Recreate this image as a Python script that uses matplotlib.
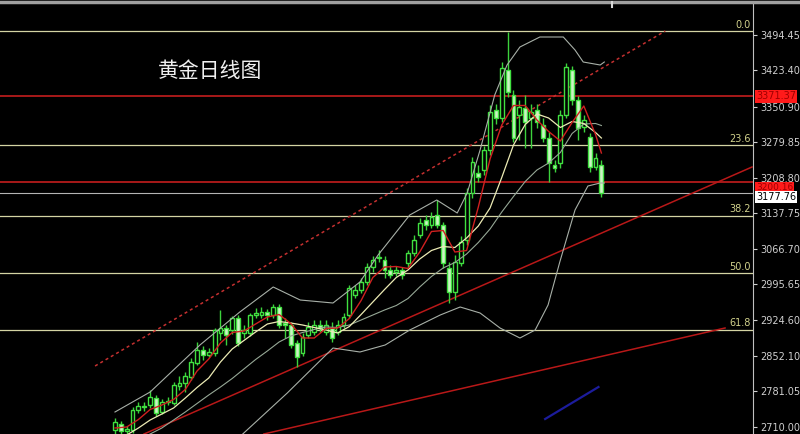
import numpy as np
import matplotlib
matplotlib.use("Agg")
import matplotlib.pyplot as plt
import matplotlib.transforms as mtransforms
from matplotlib.lines import Line2D

# daily gold candles (oldest -> newest)
open_ = [2704, 2716, 2702, 2704, 2744, 2750, 2754, 2768, 2740, 2760,
         2758, 2792, 2798, 2810, 2838, 2864, 2854, 2858, 2898, 2908,
         2904, 2928, 2898, 2898, 2934, 2934, 2940, 2934, 2950, 2918,
         2914, 2878, 2858, 2894, 2900, 2914, 2900, 2908, 2900, 2914,
         2934, 2974, 2984, 3000, 3030, 3048, 3044, 3024, 3020, 3024,
         3038, 3058, 3094, 3124, 3114, 3134, 3114, 3028, 2980, 3038,
         3084, 3178, 3218, 3224, 3264, 3344, 3328, 3424, 3374, 3334,
         3348, 3328, 3344, 3314, 3288, 3234, 3238, 3334, 3424, 3364,
         3310, 3290, 3230, 3234]
high = [2728, 2722, 2712, 2750, 2760, 2760, 2784, 2774, 2766, 2770,
        2800, 2812, 2820, 2848, 2880, 2872, 2868, 2908, 2944, 2914,
        2932, 2934, 2914, 2938, 2948, 2950, 2946, 2956, 2956, 2928,
        2920, 2884, 2898, 2920, 2924, 2924, 2924, 2920, 2924, 2938,
        2994, 2994, 3008, 3038, 3052, 3064, 3052, 3034, 3032, 3030,
        3064, 3094, 3128, 3134, 3140, 3164, 3120, 3040, 3054, 3092,
        3188, 3250, 3234, 3272, 3354, 3356, 3440, 3500, 3384, 3364,
        3374, 3356, 3356, 3328, 3300, 3244, 3344, 3438, 3432, 3372,
        3334, 3298, 3258, 3244]
low = [2696, 2696, 2696, 2698, 2738, 2742, 2748, 2732, 2736, 2754,
       2754, 2784, 2780, 2804, 2834, 2844, 2850, 2852, 2884, 2874,
       2896, 2872, 2888, 2892, 2928, 2928, 2924, 2928, 2908, 2888,
       2868, 2830, 2852, 2888, 2894, 2900, 2894, 2880, 2894, 2908,
       2928, 2968, 2978, 2994, 3020, 3040, 3008, 3008, 3012, 3006,
       3028, 3052, 3088, 3104, 3108, 3108, 3028, 2958, 2964, 3032,
       3074, 3168, 3200, 3214, 3254, 3316, 3320, 3370, 3280, 3284,
       3268, 3268, 3308, 3280, 3200, 3220, 3228, 3328, 3354, 3284,
       3300, 3220, 3224, 3170]
close = [2720, 2702, 2706, 2744, 2752, 2752, 2770, 2738, 2760, 2762,
         2794, 2798, 2812, 2840, 2864, 2854, 2860, 2904, 2908, 2894,
         2928, 2878, 2904, 2934, 2938, 2940, 2934, 2950, 2914, 2914,
         2874, 2850, 2890, 2910, 2914, 2908, 2914, 2888, 2914, 2930,
         2988, 2984, 3000, 3030, 3044, 3050, 3024, 3014, 3024, 3014,
         3058, 3084, 3118, 3114, 3130, 3114, 3038, 2980, 3040, 3080,
         3178, 3240, 3210, 3264, 3340, 3328, 3428, 3380, 3288, 3350,
         3320, 3340, 3320, 3288, 3238, 3228, 3334, 3430, 3364, 3308,
         3324, 3230, 3248, 3177.76]

# moving averages read at every second bar
ma_idx = list(range(0, 83, 2)) + [83]
ma_fast = [2708, 2710, 2725, 2745, 2754, 2765, 2785, 2822, 2846, 2878,
           2899, 2902, 2916, 2930, 2935, 2917, 2888, 2888, 2907, 2908,
           2927, 2963, 3009, 3030, 3031, 3027, 3060, 3101, 3103, 3060,
           3063, 3150, 3246, 3314, 3353, 3353, 3324, 3301, 3282, 3319,
           3352, 3295, 3258]
ma_mid = [2674, 2694, 2708, 2724, 2736, 2748, 2768, 2789, 2808, 2840,
          2866, 2883, 2900, 2916, 2921, 2918, 2914, 2909, 2904, 2898,
          2911, 2935, 2960, 2985, 3009, 3024, 3046, 3063, 3071, 3069,
          3088, 3112, 3148, 3209, 3274, 3315, 3336, 3328, 3309, 3321,
          3317, 3299, 3288]
bb_mid = [2654, 2668, 2684, 2696, 2708, 2724, 2740, 2757, 2774, 2790,
          2807, 2826, 2845, 2862, 2880, 2892, 2899, 2905, 2910, 2909,
          2914, 2924, 2934, 2944, 2953, 2967, 2990, 3011, 3028, 3039,
          3056, 3079, 3106, 3140, 3171, 3201, 3224, 3238, 3259, 3297,
          3316, 3317, 3313]

bb_up_idx = [0, 6, 14.5, 21.3, 27, 31.6, 37.2, 41.8, 44.9, 50.3, 54.9, 58.4,
             60.1, 62.3, 64.8, 66.9, 69.1, 72.5, 76.5, 78.5, 79.9, 82.8, 83.5]
bb_up = [2740, 2780, 2874, 2940, 2990, 2964, 2958, 3000, 3054, 3134, 3164, 3138,
         3178, 3264, 3374, 3434, 3470, 3490, 3490, 3464, 3440, 3434, 3440]
bb_lo_idx = [17.9, 21.8, 29.4, 37.2, 41.8, 46.1, 50.3, 55.5, 58.9, 62.3, 65.7,
             69.1, 71.7, 73.9, 75.9, 78.5, 80.7, 82.8, 83.5]
bb_lo = [2644, 2696, 2778, 2868, 2860, 2874, 2904, 2934, 2950, 2938, 2908,
         2888, 2904, 2954, 3040, 3144, 3192, 3198, 3198]

# drawn objects
fib_levels = [3502, 3274, 3133, 3019, 2905]
fib_labels = ["0.0", "23.6", "38.2", "50.0", "61.8"]
red_levels = [3371.37, 3200.16]
last_price = 3177.76
channel_dotted = ([-3.4, 93.9], [2832, 3502])
channel_red1 = ([4.95, 108.7], [2696, 3230])
channel_red2 = ([25.4, 104.1], [2696, 2908])
blue_line = ([73.4, 82.5], [2726, 2790])

yticks = [3494.45, 3423.40, 3350.90, 3279.85, 3208.80, 3137.75,
          3066.70, 2995.65, 2924.60, 2852.10, 2781.05, 2710.00]

W, H = 800, 434
fig = plt.figure(figsize=(W / 100, H / 100), dpi=100, facecolor="black")
ax = fig.add_axes([0, 0, 753 / W, 430 / H], facecolor="black")
ax.set_xlim(-19.62, 108.87)
ax.set_ylim(2696, 3556)

# horizontal levels
for lv in fib_levels:
    ax.axhline(lv, color="#d4d4a4", lw=0.9, zorder=1)
for lv in red_levels:
    ax.axhline(lv, color="#c41e1e", lw=1.2, zorder=1)
ax.axhline(last_price, color="#b4b4b4", lw=0.8, zorder=1)

# trend lines
ax.plot(*channel_dotted, color="#c43030", lw=1.1, ls=(0, (2, 2)), zorder=2)
ax.plot(*channel_red1, color="#b81818", lw=1.1, zorder=2)
ax.plot(*channel_red2, color="#b81818", lw=1.1, zorder=2)
ax.plot(*blue_line, color="#1c1c9c", lw=1.6, zorder=2)

# candles
o = np.array(open_, float)
c = np.array(close, float)
idx = np.arange(len(c))
up = c >= o
bottom = np.minimum(o, c)
height = np.maximum(np.abs(c - o), 1.5)
ax.vlines(idx, low, high, color="#3cd23c", lw=1, zorder=3)
ax.bar(idx[up], height[up], bottom=bottom[up], width=0.66,
       facecolor="black", edgecolor="#40e040", linewidth=1, zorder=4)
ax.bar(idx[~up], height[~up], bottom=bottom[~up], width=0.66,
       facecolor="#ccf4c4", edgecolor="#40e040", linewidth=1, zorder=4)

# indicators
ax.plot(bb_up_idx, bb_up, color="#a8b0a8", lw=0.8, zorder=5)
ax.plot(bb_lo_idx, bb_lo, color="#a8b0a8", lw=0.8, zorder=5)
ax.plot(ma_idx, bb_mid, color="#96a896", lw=0.8, zorder=5)
ax.plot(ma_idx, ma_mid, color="#ecebb4", lw=0.9, zorder=5)
ax.plot(ma_idx, ma_fast, color="#d02020", lw=1.0, zorder=5)

# axis styling
for side in ["left", "top", "bottom"]:
    ax.spines[side].set_visible(False)
ax.spines["right"].set_color("#c0c0c0")
ax.set_xticks([])
ax.yaxis.tick_right()
ax.set_yticks(yticks)
ax.set_yticklabels([f"{v:.2f}" for v in yticks])
ax.tick_params(axis="y", colors="#d0d0d0", labelsize=7, length=3, width=0.8, pad=2)

tr = mtransforms.blended_transform_factory(ax.transAxes, ax.transData)
for lv, lab in zip(fib_levels, fib_labels):
    ax.text(0.997, lv + 2, lab, transform=tr, ha="right", va="bottom",
            fontsize=7, color="#d2d28c", zorder=6)

ax.text(1.004, red_levels[0], f"{red_levels[0]:.2f}", transform=tr, ha="left",
        va="center", fontsize=7, color="#a00000", clip_on=False, zorder=7,
        bbox=dict(boxstyle="square,pad=0.15", fc="#ff1a1a", ec="none"))
ax.text(1.004, red_levels[1] - 11, f"{red_levels[1]:.2f}", transform=tr, ha="left",
        va="center", fontsize=6.5, color="#a00000", clip_on=False, zorder=7,
        bbox=dict(boxstyle="square,pad=0.1", fc="#ff1a1a", ec="none"))
ax.text(1.004, last_price - 8, f"{last_price:.2f}", transform=tr, ha="left",
        va="center", fontsize=7, color="black", clip_on=False, zorder=8,
        bbox=dict(boxstyle="square,pad=0.12", fc="white", ec="none"))

# window frame bits
fig.add_artist(Line2D([0, 1], [1 - 1.5 / H] * 2, transform=fig.transFigure,
                      color="#a0a0a0", lw=2.5))
fig.add_artist(Line2D([612 / W] * 2, [1 - 7 / H, 1 - 2 / H], transform=fig.transFigure,
                      color="#d8d8d8", lw=1.5))

fig.text(210 / W, 1 - 71 / H, "黄金日线图", ha="center", va="center", fontsize=15,
         color="#f0f0f0", family=["Noto Sans CJK SC", "DejaVu Sans"])

fig.savefig("out.png", dpi=100, facecolor="black")
